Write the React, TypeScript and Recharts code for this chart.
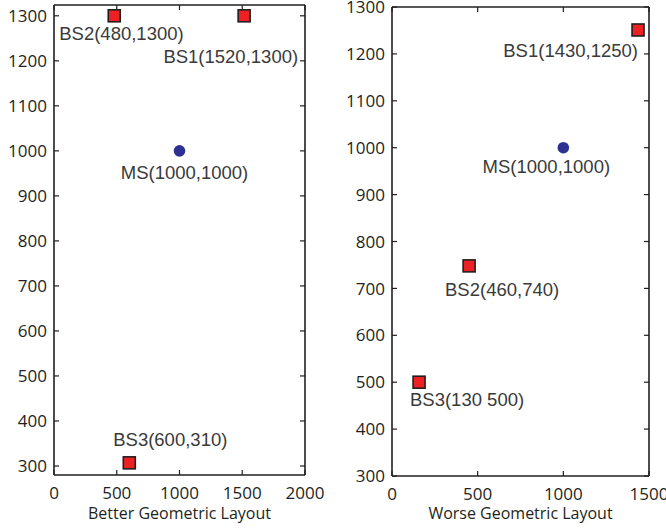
import React from "react";
import { Scatter, ScatterChart, XAxis, YAxis } from "recharts";

// Better geometric layout (left panel)
const BETTER_BS_NAMES = ["BS1", "BS2", "BS3"];
const BETTER_BS_X = [1515, 480, 600];
const BETTER_BS_Y = [1300, 1300, 307];
const BETTER_BS_LABELS = ["BS1(1520,1300)", "BS2(480,1300)", "BS3(600,310)"];
const BETTER_MS_X = [1000];
const BETTER_MS_Y = [1000];
const BETTER_MS_LABELS = ["MS(1000,1000)"];
const BETTER_X_TICKS = [0, 500, 1000, 1500, 2000];
const BETTER_Y_TICKS = [300, 400, 500, 600, 700, 800, 900, 1000, 1100, 1200, 1300];

// Worse geometric layout (right panel)
const WORSE_BS_NAMES = ["BS1", "BS2", "BS3"];
const WORSE_BS_X = [1436, 450, 158];
const WORSE_BS_Y = [1251, 748, 500];
const WORSE_BS_LABELS = ["BS1(1430,1250)", "BS2(460,740)", "BS3(130 500)"];
const WORSE_MS_X = [1000];
const WORSE_MS_Y = [1000];
const WORSE_MS_LABELS = ["MS(1000,1000)"];
const WORSE_X_TICKS = [0, 500, 1000, 1500];
const WORSE_Y_TICKS = [300, 400, 500, 600, 700, 800, 900, 1000, 1100, 1200, 1300];

// where each label sits relative to its marker (px)
type Place = { anchor: "start" | "middle" | "end"; dx: number; dy: number };
const BETTER_PLACE: Record<string, Place> = {
  BS1: { anchor: "end", dx: 54, dy: 47 },
  BS2: { anchor: "start", dx: -55, dy: 24 },
  BS3: { anchor: "middle", dx: 41, dy: -17 },
  MS: { anchor: "middle", dx: 5, dy: 28 },
};
const WORSE_PLACE: Record<string, Place> = {
  BS1: { anchor: "end", dx: 0, dy: 27 },
  BS2: { anchor: "middle", dx: 33, dy: 30 },
  BS3: { anchor: "middle", dx: 48, dy: 24 },
  MS: { anchor: "middle", dx: -17, dy: 25 },
};

const zip = (names: string[], xs: number[], ys: number[], labels: string[]) =>
  xs.map((x, i) => ({ x, y: ys[i], name: names[i], label: labels[i] }));

const TICK_FONT = "'Open Sans', 'DejaVu Sans', sans-serif";
const LABEL_FONT = "'Liberation Sans', Arial, sans-serif";
const INK = "#231f20";

const BottomTick = ({ x, y, payload }: any) => (
  <g>
    <line x1={x} x2={x} y1={y} y2={y - 5} stroke={INK} strokeWidth={1.2} />
    <text x={x} y={y + 24} textAnchor="middle" fontFamily={TICK_FONT} fontSize={17} fill={INK}>
      {payload.value}
    </text>
  </g>
);
const LeftTick = ({ x, y, payload }: any) => (
  <g>
    <line x1={x} x2={x + 5} y1={y} y2={y} stroke={INK} strokeWidth={1.2} />
    <text x={x - 7} y={y} dy="0.36em" textAnchor="end" fontFamily={TICK_FONT} fontSize={17} fill={INK}>
      {payload.value}
    </text>
  </g>
);
// top axis is 1px tall: its tick y sits 1px above the plot edge
const TopTick = ({ x, y }: any) => (
  <line x1={x} x2={x} y1={y} y2={y + 5} stroke={INK} strokeWidth={1.2} />
);
const RightTick = ({ x, y }: any) => (
  <line x1={x - 5} x2={x} y1={y} y2={y} stroke={INK} strokeWidth={1.2} />
);

const makeLabel = (place: Record<string, Place>, name: string, label: string, cx: number, cy: number) => {
  const p = place[name];
  return (
    <text
      x={cx + p.dx}
      y={cy + p.dy}
      textAnchor={p.anchor}
      fontFamily={LABEL_FONT}
      fontSize={18.5}
      fill="#3a3a3a"
    >
      {label}
    </text>
  );
};

const squareShape = (place: Record<string, Place>) => (props: any) => {
  const { cx, cy, payload } = props;
  return (
    <g>
      <rect x={cx - 6} y={cy - 6} width={12} height={12} fill="#ed2024" stroke={INK} strokeWidth={1.6} />
      {makeLabel(place, payload.name, payload.label, cx, cy)}
    </g>
  );
};

const circleShape = (place: Record<string, Place>) => (props: any) => {
  const { cx, cy, payload } = props;
  return (
    <g>
      <circle cx={cx} cy={cy} r={5.8} fill="#2e3192" />
      {makeLabel(place, "MS", payload.label, cx, cy)}
    </g>
  );
};

// draws nothing; only ties the frame axes (top/right) to data
const noShape = () => <g />;

interface PanelProps {
  width: number;
  top: number;
  right: number;
  bottom: number;
  xDomain: [number, number];
  yDomain: [number, number];
  xTicks: number[];
  yTicks: number[];
  bs: { x: number; y: number; name: string; label: string }[];
  ms: { x: number; y: number; name: string; label: string }[];
  place: Record<string, Place>;
  title: string;
}

function Panel({ width, top, right, bottom, xDomain, yDomain, xTicks, yTicks, bs, ms, place, title }: PanelProps) {
  const axisLine = { stroke: INK, strokeWidth: 1.6 };
  return (
    <ScatterChart width={width} height={530} margin={{ top: top - 1, right: right - 1, bottom: 0, left: 0 }}>
      <XAxis
        xAxisId="b"
        type="number"
        dataKey="x"
        domain={xDomain}
        ticks={xTicks}
        allowDataOverflow
        interval={0}
        height={bottom}
        tickSize={0}
        tickMargin={0}
        tickLine={false}
        axisLine={axisLine}
        tick={<BottomTick />}
        label={{
          value: title,
          position: "insideBottom",
          offset: 11,
          style: { fontFamily: TICK_FONT, fontSize: 16, fill: INK },
        }}
      />
      <XAxis
        xAxisId="t"
        orientation="top"
        type="number"
        dataKey="x"
        domain={xDomain}
        ticks={xTicks}
        allowDataOverflow
        interval={0}
        height={1}
        tickSize={0}
        tickMargin={0}
        tickLine={false}
        axisLine={axisLine}
        tick={<TopTick />}
      />
      <YAxis
        yAxisId="l"
        type="number"
        dataKey="y"
        domain={yDomain}
        ticks={yTicks}
        allowDataOverflow
        interval={0}
        width={54}
        tickSize={0}
        tickMargin={0}
        tickLine={false}
        axisLine={axisLine}
        tick={<LeftTick />}
      />
      <YAxis
        yAxisId="r"
        orientation="right"
        type="number"
        dataKey="y"
        domain={yDomain}
        ticks={yTicks}
        allowDataOverflow
        interval={0}
        width={1}
        tickSize={0}
        tickMargin={0}
        tickLine={false}
        axisLine={axisLine}
        tick={<RightTick />}
      />
      <Scatter xAxisId="t" yAxisId="r" data={ms} shape={noShape} isAnimationActive={false} />
      <Scatter xAxisId="b" yAxisId="l" data={ms} shape={circleShape(place)} isAnimationActive={false} />
      <Scatter xAxisId="b" yAxisId="l" data={bs} shape={squareShape(place)} isAnimationActive={false} />
    </ScatterChart>
  );
}

export default function App() {
  const betterBs = zip(BETTER_BS_NAMES, BETTER_BS_X, BETTER_BS_Y, BETTER_BS_LABELS);
  const betterMs = zip(["MS"], BETTER_MS_X, BETTER_MS_Y, BETTER_MS_LABELS);
  const worseBs = zip(WORSE_BS_NAMES, WORSE_BS_X, WORSE_BS_Y, WORSE_BS_LABELS);
  const worseMs = zip(["MS"], WORSE_MS_X, WORSE_MS_Y, WORSE_MS_LABELS);

  return (
    <div style={{ position: "absolute", left: 0, top: 0, width: 666, height: 530, background: "#fff", display: "flex" }}>
      <Panel
        width={338}
        top={5}
        right={33}
        bottom={55}
        xDomain={[0, 2000]}
        yDomain={[280, 1324]}
        xTicks={BETTER_X_TICKS}
        yTicks={BETTER_Y_TICKS}
        bs={betterBs}
        ms={betterMs}
        place={BETTER_PLACE}
        title="Better Geometric Layout"
      />
      <Panel
        width={328}
        top={7}
        right={17}
        bottom={54}
        xDomain={[0, 1500]}
        yDomain={[300, 1300]}
        xTicks={WORSE_X_TICKS}
        yTicks={WORSE_Y_TICKS}
        bs={worseBs}
        ms={worseMs}
        place={WORSE_PLACE}
        title="Worse Geometric Layout"
      />
    </div>
  );
}
